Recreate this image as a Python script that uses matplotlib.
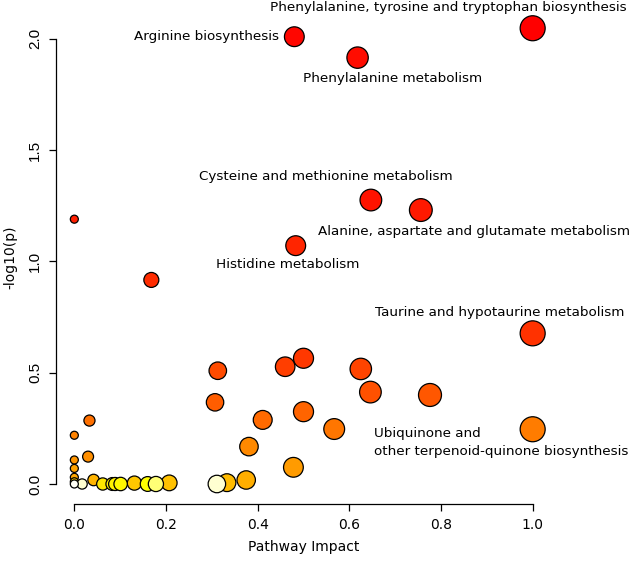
import colorsys
import numpy as np
import matplotlib
matplotlib.use("Agg")
import matplotlib.pyplot as plt

# pathway impact and -log10(p), ordered by p-value (most significant first)
impact = [1.0, 0.480, 0.618, 0.647, 0.756, 0.0, 0.483, 0.168,
          1.0, 0.500, 0.460, 0.625, 0.313, 0.646, 0.776, 0.307,
          0.500, 0.411, 0.033, 0.567, 1.0, 0.0, 0.381, 0.030,
          0.0, 0.478, 0.0, 0.0, 0.375, 0.042, 0.333, 0.207,
          0.131, 0.0, 0.062, 0.083, 0.089, 0.101, 0.160, 0.178,
          0.017, 0.311, 0.0]
logp = [2.048, 2.010, 1.916, 1.276, 1.231, 1.190, 1.071, 0.917,
        0.677, 0.565, 0.527, 0.517, 0.509, 0.413, 0.400, 0.367,
        0.325, 0.288, 0.285, 0.247, 0.246, 0.219, 0.168, 0.123,
        0.108, 0.075, 0.070, 0.030, 0.018, 0.018, 0.006, 0.005,
        0.004, 0.010, 0.0, 0.0, 0.0, 0.0, 0.0, 0.0,
        0.0, 0.0, 0.0]
# rank of each pathway among all 56 tested (hidden ones sit under the origin)
p_rank = list(range(34)) + [37, 38, 39, 40, 41] + [48, 53, 53, 55]
n_pathways = 56

labels = ["Phenylalanine, tyrosine and tryptophan biosynthesis",
          "Arginine biosynthesis",
          "Phenylalanine metabolism",
          "Cysteine and methionine metabolism",
          "Alanine, aspartate and glutamate metabolism",
          "Histidine metabolism",
          "Taurine and hypotaurine metabolism",
          "Ubiquinone and\nother terpenoid-quinone biosynthesis"]
label_x = [0.817, 0.446, 0.695, 0.549, 0.873, 0.465, 0.928, 0.653]
label_y = [2.142, 2.010, 1.820, 1.380, 1.135, 0.985, 0.770, 0.186]
label_ha = ["center", "right", "center", "center", "center", "center", "center", "left"]


def heat_colors(n):
    # same as R's heat.colors()
    j = n // 4
    i = n - j
    cols = [colorsys.hsv_to_rgb(h, 1, 1) for h in np.linspace(0, 1 / 6, i)]
    if j > 0:
        for s in np.linspace(1 - 1 / (2 * j), 1 / (2 * j), j):
            cols.append(colorsys.hsv_to_rgb(1 / 6, s, 1))
    return cols


x = np.array(impact)
y = np.array(logp)
pal = heat_colors(n_pathways)
cols = [pal[r] for r in p_rank]
radius_px = 4 + 8.5 * np.sqrt(x)
sizes = (2 * radius_px * 0.72) ** 2

W, H = 629, 563
fig = plt.figure(figsize=(W / 100, H / 100), dpi=100)
ax = fig.add_axes([56 / W, 1 - 504 / H, (551 - 56) / W, (504 - 10) / H])
ax.set_xlim(-0.04, 1.04)
ax.set_ylim(-0.0899, 2.130)

ax.scatter(x, y, s=sizes, c=cols, edgecolors="black", linewidths=0.9, zorder=3, clip_on=False)

for lab, lx, ly, ha in zip(labels, label_x, label_y, label_ha):
    ax.text(lx, ly, lab, ha=ha, va="center", fontsize=9.7, family="DejaVu Sans",
            clip_on=False, linespacing=1.55)

for side in ["top", "right"]:
    ax.spines[side].set_visible(False)
ax.spines["left"].set_bounds(0, 2)
ax.spines["bottom"].set_bounds(0, 1)
ax.spines["left"].set_linewidth(0.9)
ax.spines["bottom"].set_linewidth(0.9)

ax.set_xticks([0.0, 0.2, 0.4, 0.6, 0.8, 1.0])
ax.set_xticklabels(["0.0", "0.2", "0.4", "0.6", "0.8", "1.0"], family="DejaVu Sans", fontsize=10)
ax.set_yticks([0.0, 0.5, 1.0, 1.5, 2.0])
ax.set_yticklabels(["0.0", "0.5", "1.0", "1.5", "2.0"], family="Liberation Sans", fontsize=11,
                   rotation=90, va="center")
ax.tick_params(direction="out", length=5, width=0.9, pad=5)

ax.set_xlabel("Pathway Impact", family="DejaVu Sans", fontsize=10, labelpad=6)
ax.set_ylabel("-log10(p)", family="DejaVu Sans", fontsize=10, labelpad=8)

fig.savefig("out.png", dpi=100)
